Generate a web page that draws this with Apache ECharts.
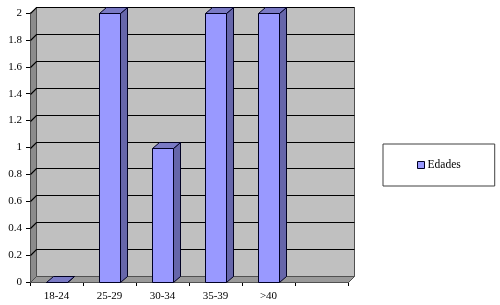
<!DOCTYPE html>
<html>
<head>
<meta charset="utf-8">
<script src="https://cdn.jsdelivr.net/npm/echarts@6/dist/echarts.min.js"></script>
<style>html,body{margin:0;padding:0;background:#fff}#c{width:500px;height:305px}</style>
</head>
<body>
<div id="c"></div>
<script>
const categories = ['18-24', '25-29', '30-34', '35-39', '>40', ''];
const edades = [0, 2, 1, 2, 2];
const yTicks = [0, 0.2, 0.4, 0.6, 0.8, 1, 1.2, 1.4, 1.6, 1.8, 2];
const seriesName = 'Edades';

const DX = 6, DY = -6;
const BDX = 7;
const FONT = '"Liberation Serif", "Times New Roman", serif';

function wallsRender(params, api) {
  const bw = api.size([1, 0])[0];
  const nCat = categories.length;
  const x0 = Math.round(api.coord([0, 0])[0] - bw / 2) + 0.5;
  const x1 = Math.round(api.coord([nCat - 1, 0])[0] + bw / 2) + 0.5;
  const yB = Math.round(api.coord([0, yTicks[0]])[1]) + 0.5;
  const yT = Math.round(api.coord([0, yTicks[yTicks.length - 1]])[1]) + 0.5;
  const children = [];
  children.push({type: 'polygon', shape: {points: [[x0 + DX, yT + DY], [x1 + DX, yT + DY], [x1 + DX, yB + DY], [x0 + DX, yB + DY]]},
    style: {fill: '#C0C0C0', stroke: '#505050', lineWidth: 1}});
  children.push({type: 'polygon', shape: {points: [[x0, yT], [x0 + DX, yT + DY], [x0 + DX, yB + DY], [x0, yB]]},
    style: {fill: '#8C8C8C', stroke: '#505050', lineWidth: 1}});
  children.push({type: 'polygon', shape: {points: [[x0, yB], [x0 + DX, yB + DY], [x1 + DX, yB + DY], [x1, yB]]},
    style: {fill: '#9A9A9A', stroke: '#505050', lineWidth: 1}});
  yTicks.forEach(function (t) {
    if (t === yTicks[0]) return;
    const y = Math.round(api.coord([0, t])[1]) + 0.5;
    children.push({type: 'polyline', shape: {points: [[x0, y], [x0 + DX, y + DY], [x1 + DX, y + DY]]},
      style: {stroke: '#000', lineWidth: 1.2, fill: null}});
  });
  return {type: 'group', children: children};
}

function barRender(params, api) {
  const idx = api.value(0);
  const v = api.value(1);
  const top = api.coord([idx, v]);
  const base = api.coord([idx, 0]);
  const w = api.size([1, 0])[0] * 0.4;
  const xl = Math.round(top[0] - w / 2) + 0.5;
  const xr = Math.round(top[0] + w / 2) + 0.5;
  const yt = Math.round(top[1]) + 0.5;
  const yb = Math.round(base[1]) + 0.5;
  const stroke = '#000022';
  return {type: 'group', children: [
    {type: 'polygon', shape: {points: [[xr, yt], [xr + BDX, yt + DY], [xr + BDX, yb + DY], [xr, yb]]},
      style: {fill: '#6666AA', stroke: stroke, lineWidth: 1}},
    {type: 'polygon', shape: {points: [[xl, yt], [xl + BDX, yt + DY], [xr + BDX, yt + DY], [xr, yt]]},
      style: {fill: '#7A7AC4', stroke: stroke, lineWidth: 1}},
    {type: 'rect', shape: {x: xl, y: yt, width: xr - xl, height: yb - yt},
      style: {fill: '#9999FF', stroke: stroke, lineWidth: 1}}
  ]};
}

const chart = echarts.init(document.getElementById('c'), null, {renderer: 'canvas'});
chart.setOption({
  animation: false,
  backgroundColor: '#fff',
  grid: {left: 30, top: 13, right: 152, bottom: 23, containLabel: false},
  legend: {
    data: [{name: seriesName, icon: 'rect', itemStyle: {color: '#9999FF', borderColor: '#000022', borderWidth: 1}}],
    left: 383, top: 144,
    padding: [15, 34],
    itemWidth: 7, itemHeight: 7, itemGap: 4,
    borderColor: '#404040', borderWidth: 1,
    textStyle: {fontFamily: FONT, fontSize: 11.5, color: '#000', padding: [0, 0, 0, -2]}
  },
  xAxis: {
    type: 'category', data: categories,
    axisLine: {show: true, lineStyle: {color: '#000', width: 1}},
    axisTick: {show: true, inside: false, length: 4, lineStyle: {color: '#000'}},
    axisLabel: {fontFamily: FONT, fontSize: 11, color: '#000', margin: 9},
    splitLine: {show: false}
  },
  yAxis: {
    type: 'value', min: 0, max: 2, interval: 0.2,
    axisLine: {show: true, lineStyle: {color: '#000', width: 1}},
    axisTick: {show: true, inside: false, length: 4, lineStyle: {color: '#000'}},
    axisLabel: {fontFamily: FONT, fontSize: 11, color: '#000', margin: 8},
    splitLine: {show: false}
  },
  series: [
    {type: 'custom', name: 'walls', silent: true, z: 1, renderItem: wallsRender, data: [[0, 0]], clip: false},
    {type: 'custom', name: seriesName, z: 2, renderItem: barRender,
      itemStyle: {color: '#9999FF'},
      data: edades.map(function (v, i) { return [i, v]; }), clip: false}
  ]
});
</script>
</body>
</html>
